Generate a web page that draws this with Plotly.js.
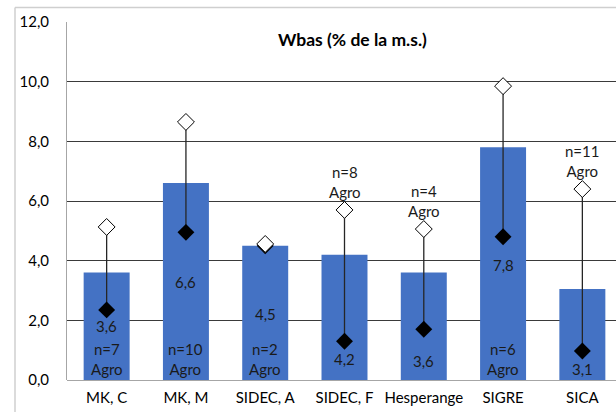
<!DOCTYPE html>
<html>
<head>
<meta charset="utf-8">
<script src="https://cdn.plot.ly/plotly-3.0.1.min.js"></script>
<style>
html,body{margin:0;padding:0;overflow:hidden;background:#fff;}
#chart{width:623px;height:412px;}
</style>
</head>
<body>
<div id="chart"></div>
<script>
var categories = ['MK, C', 'MK, M', 'SIDEC, A', 'SIDEC, F', 'Hesperange', 'SIGRE', 'SICA'];
var meanValues = [3.6, 6.6, 4.5, 4.2, 3.6, 7.8, 3.05];
var meanLabels = ['3,6', '6,6', '4,5', '4,2', '3,6', '7,8', '3,1'];
var minValues = [2.35, 4.95, 4.5, 1.3, 1.7, 4.8, 0.97];
var maxValues = [5.13, 8.65, 4.56, 5.7, 5.06, 9.85, 6.4];
var nLabels = ['n=7', 'n=10', 'n=2', 'n=8', 'n=4', 'n=6', 'n=11'];
var sourceLabel = 'Agro';
var nInside = [true, true, true, false, false, true, false];
var valueLabelY = [1.8, 3.3, 2.2, 0.7, 0.64, 3.85, 0.37];

var FONT = 'Lato, "Open Sans", sans-serif';
var FS = 15;

var bars = {
  type: 'bar', x: categories, y: meanValues,
  marker: {color: '#4472C4'}, width: 0.58, hoverinfo: 'none'
};
var mins = {
  type: 'scatter', mode: 'markers', x: categories, y: minValues,
  marker: {symbol: 'diamond', size: 13, color: '#000'},
  error_y: {type: 'data', symmetric: false,
    array: maxValues.map(function(v, i){ return v - minValues[i]; }),
    arrayminus: minValues.map(function(){ return 0; }),
    width: 0, thickness: 1.3, color: '#262626'},
  hoverinfo: 'none'
};
var maxs = {
  type: 'scatter', mode: 'markers', x: categories, y: maxValues,
  marker: {symbol: 'diamond', size: 13, color: '#fff', line: {color: '#000', width: 1}},
  hoverinfo: 'none'
};

var annotations = [];
categories.forEach(function(c, i){
  annotations.push({x: c, y: valueLabelY[i], text: meanLabels[i], showarrow: false,
    font: {family: FONT, size: FS, color: '#1a1a1a'}, yanchor: 'middle'});
  if (nInside[i]) {
    annotations.push({x: c, y: 0, yanchor: 'bottom', yshift: 0, showarrow: false,
      text: nLabels[i] + '<br>' + sourceLabel,
      font: {family: FONT, size: FS, color: '#1a1a1a'}});
  } else {
    annotations.push({x: c, y: maxValues[i], yanchor: 'bottom', yshift: 7, showarrow: false,
      text: nLabels[i] + '<br>' + sourceLabel,
      font: {family: FONT, size: FS, color: '#1a1a1a'}});
  }
});
annotations.push({xref: 'paper', yref: 'paper', x: 0.514, y: 0.95, xanchor: 'center', yanchor: 'middle',
  text: '<b>Wbas (% de la m.s.)</b>', showarrow: false,
  font: {family: FONT, size: 17.5, color: '#000'}});

var layout = {
  width: 623, height: 412,
  margin: {l: 67, r: 1, t: 22, b: 32},
  paper_bgcolor: '#fff', plot_bgcolor: '#fff',
  showlegend: false,
  separators: ',.',
  font: {family: FONT, size: FS, color: '#000'},
  xaxis: {type: 'category', showgrid: false, showline: false, zeroline: false,
    ticks: '', ticklabelstandoff: 7, tickfont: {family: FONT, size: FS, color: '#000'}},
  yaxis: {range: [0, 12], dtick: 2, tickformat: '.1f', showgrid: true, gridcolor: '#3a3a3a',
    gridwidth: 1, zeroline: true, zerolinecolor: '#a6a6a6', zerolinewidth: 1,
    showline: true, linecolor: '#a6a6a6', linewidth: 1, ticks: '', ticklabelstandoff: 14,
    tickfont: {family: FONT, size: FS, color: '#000'}},
  annotations: annotations,
  shapes: [
    {type: 'line', xref: 'paper', yref: 'paper', x0: -0.0937, x1: 1.01, y0: 1.0404, y1: 1.0404,
      line: {color: '#cfcfcf', width: 1.5}},
    {type: 'line', xref: 'paper', yref: 'paper', x0: -0.0937, x1: -0.0937, y0: 1.0404, y1: -0.2,
      line: {color: '#cfcfcf', width: 1.5}}
  ]
};

Plotly.newPlot('chart', [bars, mins, maxs], layout, {displayModeBar: false, staticPlot: true});
</script>
</body>
</html>
